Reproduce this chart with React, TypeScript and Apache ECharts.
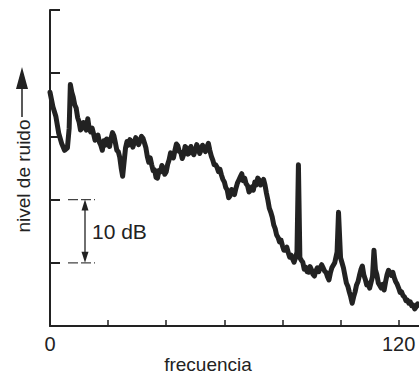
import React, { useEffect, useRef } from "react";
import * as echarts from "echarts";

// [frequency, noise level in dB]
const lowBand = [
  [0, 37.0], [1, 34.7], [2, 33.2], [3, 30.5], [4, 28.9], [5, 27.8], [6, 28.2],
  [6.6, 31.3], [7, 38.2], [7.5, 37.0], [8, 36.2], [8.5, 35.0], [9, 34.5],
  [9.5, 33.0], [10, 32.3], [10.5, 31.0], [11, 31.3], [11.5, 32.2], [12, 31.8],
  [12.5, 31.0], [13, 32.8], [13.5, 31.2], [14, 30.7], [14.5, 31.3], [15, 30.4],
  [15.5, 29.4], [16, 29.7], [16.5, 30.2], [17, 29.1], [17.5, 28.6], [18, 27.8],
  [18.5, 29.3], [19, 28.6], [19.5, 29.6], [20, 29.0], [20.5, 28.4], [21, 29.7],
  [21.5, 30.6], [22, 30.1], [22.5, 29.0], [23, 27.8], [23.5, 27.6], [24, 26.7],
  [24.5, 25.0], [25, 23.7], [26, 28.2], [26.5, 29.2], [27, 28.6], [27.5, 29.5],
  [28, 29.1], [28.5, 28.3], [29, 29.0], [29.5, 29.8], [30, 29.4], [30.5, 28.7],
  [31, 29.3], [31.5, 30.0], [32, 29.7], [32.5, 29.0], [33, 28.2], [33.5, 26.8],
  [34, 25.9], [34.5, 26.6], [35, 25.5], [35.5, 24.6], [36, 24.7], [36.5, 23.5],
  [37, 23.4], [37.5, 24.6], [38, 24.4], [38.5, 25.4], [39, 25.0], [39.5, 24.0],
  [40, 24.4], [40.5, 25.6],
];
const midBand = [
  [41, 26.3], [41.5, 27.4], [42, 27.1], [42.5, 26.6], [43, 27.8], [43.5, 28.8],
  [44, 28.5], [44.5, 27.6], [45, 27.5], [45.5, 26.5], [46, 27.1], [46.5, 28.4],
  [47, 28.2], [47.5, 27.2], [48, 27.4], [48.5, 28.4], [49, 27.5], [49.5, 27.1],
  [50, 27.8], [50.5, 28.7], [51, 28.2], [51.5, 27.3], [52, 27.8], [52.5, 28.6],
  [53, 28.2], [53.5, 27.6], [54, 28.3], [54.5, 28.9], [55, 27.8], [55.5, 26.9],
  [56, 26.3], [56.5, 25.5], [57, 25.5], [57.5, 25.1], [58, 24.4], [58.5, 24.8],
  [59, 23.9], [59.5, 23.2], [60, 22.8], [60.5, 21.9], [61, 21.5], [61.5, 20.3],
  [62, 20.6], [62.5, 21.6], [63, 21.2], [63.5, 20.8], [64, 21.8], [64.5, 22.6],
  [65, 23.1], [65.5, 23.6], [66, 24.1], [66.5, 23.0], [67, 23.4], [67.5, 22.5],
  [68, 22.2], [68.5, 21.2], [69, 21.5], [69.5, 22.0], [70, 21.5], [70.5, 22.8],
  [71, 22.3], [71.5, 23.4], [72, 23.1], [72.5, 22.3], [73, 22.8], [73.5, 23.2],
  [74, 22.3], [74.5, 21.0], [75, 19.9], [75.5, 18.6], [76, 18.0], [76.5, 17.2],
  [77, 16.0], [77.5, 15.4], [78, 14.4], [78.5, 14.0], [79, 13.3], [79.5, 13.6],
  [80, 12.7], [80.5, 12.0], [81, 12.0], [81.5, 12.5], [82, 11.6], [82.5, 10.9],
  [83, 11.2], [83.5, 10.6], [84, 10.1], [84.5, 10.8],
];
const highBand = [
  [85, 11.7], [85.5, 25.5], [86, 10.8], [86.5, 10.4], [87, 10.1], [87.5, 9.0],
  [88, 9.3], [88.5, 8.6], [89, 8.5], [89.5, 9.4], [90, 8.9], [90.5, 8.2],
  [91, 7.9], [91.5, 8.7], [92, 9.2], [92.5, 8.6], [93, 9.2], [93.5, 9.7],
  [94, 9.2], [94.5, 8.7], [95, 8.5], [95.5, 7.8], [96, 7.3], [96.5, 8.4],
  [97, 9.2], [97.5, 9.6], [98, 10.0], [98.8, 11.7], [99.3, 18.0], [100, 10.8],
  [100.5, 10.0], [101, 9.2], [101.5, 8.0], [102, 6.8], [102.5, 6.3], [103, 5.4],
  [103.5, 4.6], [104, 3.6], [104.5, 4.6], [105, 5.4], [105.5, 6.5], [106, 7.0],
  [106.5, 8.0], [107, 8.9], [107.5, 9.5], [108, 8.1], [108.5, 7.4], [109, 6.5],
  [109.5, 6.8], [110, 6.0], [110.5, 6.9], [111, 7.8], [111.5, 12.0], [112, 8.9],
  [112.5, 8.1], [113, 6.8], [113.5, 6.4], [114, 6.0], [114.5, 6.6], [115, 5.7],
  [115.5, 7.0], [116, 8.1], [116.5, 8.8], [117, 8.5], [117.5, 8.0], [118, 8.5],
  [118.5, 7.6], [119, 7.0], [119.5, 6.6], [120, 6.0], [120.5, 5.3], [121, 5.4],
  [121.5, 4.8], [122, 4.6], [122.5, 4.0], [123, 4.1], [123.5, 3.6], [124, 3.8],
  [124.5, 3.2], [125, 3.3], [125.5, 2.7], [126, 3.0], [126.5, 3.5], [127, 3.3],
];
const xTickValues = [20, 40, 60, 80, 100, 120];
const xLabelValues = [0, 120];
const scaleLow = 10;
const scaleHigh = 20;

const FONT = "'Liberation Sans', Arial, Helvetica, sans-serif";
const INK = "#222222";

export default function App() {
  const ref = useRef<HTMLDivElement>(null);
  useEffect(() => {
    if (!ref.current) return;
    const chart = echarts.init(ref.current, null, { renderer: "svg" });
    chart.setOption({
      animation: false,
      backgroundColor: "#ffffff",
      grid: { left: 50, right: 0, top: 10, bottom: 50, containLabel: false },
      xAxis: {
        type: "value",
        min: 0,
        max: 127,
        interval: 20,
        axisLine: { lineStyle: { color: INK, width: 2 } },
        axisTick: {
          inside: true,
          length: 6,
          lineStyle: { color: INK, width: 1.5 },
          customValues: xTickValues,
        },
        axisLabel: {
          customValues: xLabelValues,
          color: INK,
          fontSize: 20,
          fontFamily: FONT,
          margin: 8,
        },
        splitLine: { show: false },
      },
      yAxis: {
        type: "value",
        min: 0,
        max: 50,
        interval: 10,
        axisLine: { show: true, lineStyle: { color: INK, width: 2 } },
        axisTick: {
          show: true,
          inside: true,
          length: 10,
          lineStyle: { color: INK, width: 2 },
        },
        axisLabel: { show: false },
        splitLine: { show: false },
      },
      series: [
        {
          type: "line",
          data: [...lowBand, ...midBand, ...highBand],
          showSymbol: false,
          lineStyle: { color: INK, width: 5, join: "round", cap: "round" },
        },
      ],
    });

    const yHigh = chart.convertToPixel({ yAxisIndex: 0 }, scaleHigh) as number;
    const yLow = chart.convertToPixel({ yAxisIndex: 0 }, scaleLow) as number;
    const ax = 85;
    const head = 11;
    chart.setOption({
      graphic: [
        {
          type: "text",
          x: 23,
          y: 176,
          rotation: Math.PI / 2,
          style: {
            text: "nivel de ruido",
            fontSize: 19,
            fontFamily: FONT,
            fill: INK,
            textAlign: "center",
            textVerticalAlign: "middle",
          },
        },
        {
          type: "line",
          shape: { x1: 22, y1: 117, x2: 22, y2: 86 },
          style: { stroke: INK, lineWidth: 1.5 },
        },
        {
          type: "polygon",
          shape: { points: [[22, 67], [16, 89], [28, 89]] },
          style: { fill: INK },
        },
        {
          type: "line",
          shape: { x1: 68, y1: yHigh, x2: 95, y2: yHigh },
          style: { stroke: "#444", lineWidth: 1.2, lineDash: [10, 3] },
        },
        {
          type: "line",
          shape: { x1: 68, y1: yLow, x2: 95, y2: yLow },
          style: { stroke: "#444", lineWidth: 1.2, lineDash: [10, 3] },
        },
        {
          type: "line",
          shape: { x1: ax, y1: yHigh + 4, x2: ax, y2: yLow - 4 },
          style: { stroke: INK, lineWidth: 1.3 },
        },
        {
          type: "polygon",
          shape: { points: [[ax, yHigh], [ax - 3.5, yHigh + head], [ax + 3.5, yHigh + head]] },
          style: { fill: INK },
        },
        {
          type: "polygon",
          shape: { points: [[ax, yLow], [ax - 3.5, yLow - head], [ax + 3.5, yLow - head]] },
          style: { fill: INK },
        },
        {
          type: "text",
          x: 92,
          y: (yHigh + yLow) / 2,
          style: {
            text: "10 dB",
            fontSize: 21,
            fontFamily: FONT,
            fill: INK,
            textAlign: "left",
            textVerticalAlign: "middle",
          },
        },
        {
          type: "text",
          x: 208,
          y: 364,
          style: {
            text: "frecuencia",
            fontSize: 19,
            fontFamily: FONT,
            fill: INK,
            textAlign: "center",
            textVerticalAlign: "middle",
          },
        },
      ],
    });
    return () => chart.dispose();
  }, []);
  return (
    <div
      ref={ref}
      style={{ position: "fixed", left: 0, top: 0, width: 419, height: 376 }}
    />
  );
}
